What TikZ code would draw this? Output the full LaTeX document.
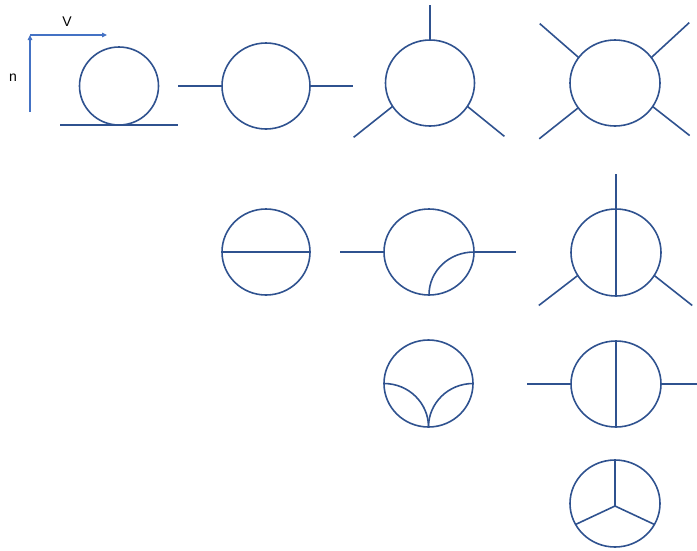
\documentclass[tikz,border=0pt]{standalone}
\usepackage{fontspec}
\setmainfont{Liberation Sans}
\usetikzlibrary{shapes.geometric,arrows.meta}
\definecolor{ink}{RGB}{47,82,143}
\definecolor{axisblue}{RGB}{68,114,196}

\begin{document}
\begin{tikzpicture}[
  x=1pt, y=-1pt,
  blob/.style = {ellipse, draw=ink, line width=1.6pt, inner sep=0pt, outer sep=0pt,
                 minimum width=89pt, minimum height=86pt},
  leg/.style  = {draw=ink, line width=1.6pt},
  axis/.style = {draw=axisblue, line width=1.1pt, -{Triangle[length=5pt,width=4.5pt]}},
  lbl/.style  = {font=\fontsize{14}{16}\selectfont, inner sep=0pt}
]

\useasboundingbox (0,0) rectangle (697,550);

% ============================ axes ========================================
\coordinate (orig) at (30,35);
\coordinate (nend) at (30,112);
\coordinate (vend) at (107,35);
\draw[axis] (nend) -- (orig);
\draw[axis] (orig) -- (vend);
\node[lbl] (vlbl) at (67,22) {V};
\node[lbl] (nlbl) at (13,78) {n};

% ======================== one-loop row ====================================
\node[blob, minimum width=79pt, minimum height=78pt] (tad) at (119,86) {};
\coordinate (gndl) at (60,125);
\coordinate (gndr) at (178,125);
\draw[leg] (gndl) -- (gndr);

\node[blob, minimum width=88pt] (two) at (266,86) {};
\draw[leg] (two.west) -- ++(-44,0);
\draw[leg] (two.east) -- ++(43,0);

\node[blob] (three) at (430,83) {};
\draw[leg] (three.north) -- ++(0,-35);
\draw[leg] (three.212) -- ++(-39,31);
\draw[leg] (three.-32) -- ++(37,30);

\node[blob, minimum width=90pt] (four) at (615,83) {};
\draw[leg] (four.145) -- ++(-39,-34);
\draw[leg] (four.35)  -- ++(38,-35);
\draw[leg] (four.214) -- ++(-39,31);
\draw[leg] (four.-32) -- ++(37,29);

% ======================== two-loop rows ===================================
\node[blob, minimum width=88pt] (theta) at (266,252) {};
\draw[leg] (theta.west) -- (theta.east);

\node[blob, minimum width=90pt] (selfa) at (429,252) {};
\draw[leg] (selfa.west) -- ++(-44,0);
\draw[leg] (selfa.east) -- ++(42,0);
\draw[leg] (selfa.east) .. controls +(-25,0) and +(0,-24) .. (selfa.south);

\node[blob, minimum height=87pt] (selfb) at (428.5,383.5) {};
\draw[leg] (selfb.west) .. controls +(24.6,0) and +(0,-24) .. (selfb.south);
\draw[leg] (selfb.east) .. controls +(-24.6,0) and +(0,-24) .. (selfb.south);

\node[blob, minimum width=90pt, minimum height=87pt] (vertc) at (616,252.5) {};
\coordinate (vtop) at (616,174);
\draw[leg] (vtop) -- (vertc.south);
\draw[leg] (vertc.211) -- ++(-39,30);
\draw[leg] (vertc.-31) -- ++(38,30);

\node[blob, minimum width=90pt] (propc) at (616,384) {};
\draw[leg] (propc.north) -- (propc.south);
\draw[leg] (propc.west) -- ++(-44,0);
\draw[leg] (propc.east) -- ++(36,0);

\node[blob, minimum width=90pt, minimum height=87pt] (merc) at (615,503.5) {};
\coordinate (mid) at (615,506);
\draw[leg] (mid) -- (merc.north);
\draw[leg] (mid) -- (merc.208);
\draw[leg] (mid) -- (merc.-28);

\end{tikzpicture}
\end{document}
